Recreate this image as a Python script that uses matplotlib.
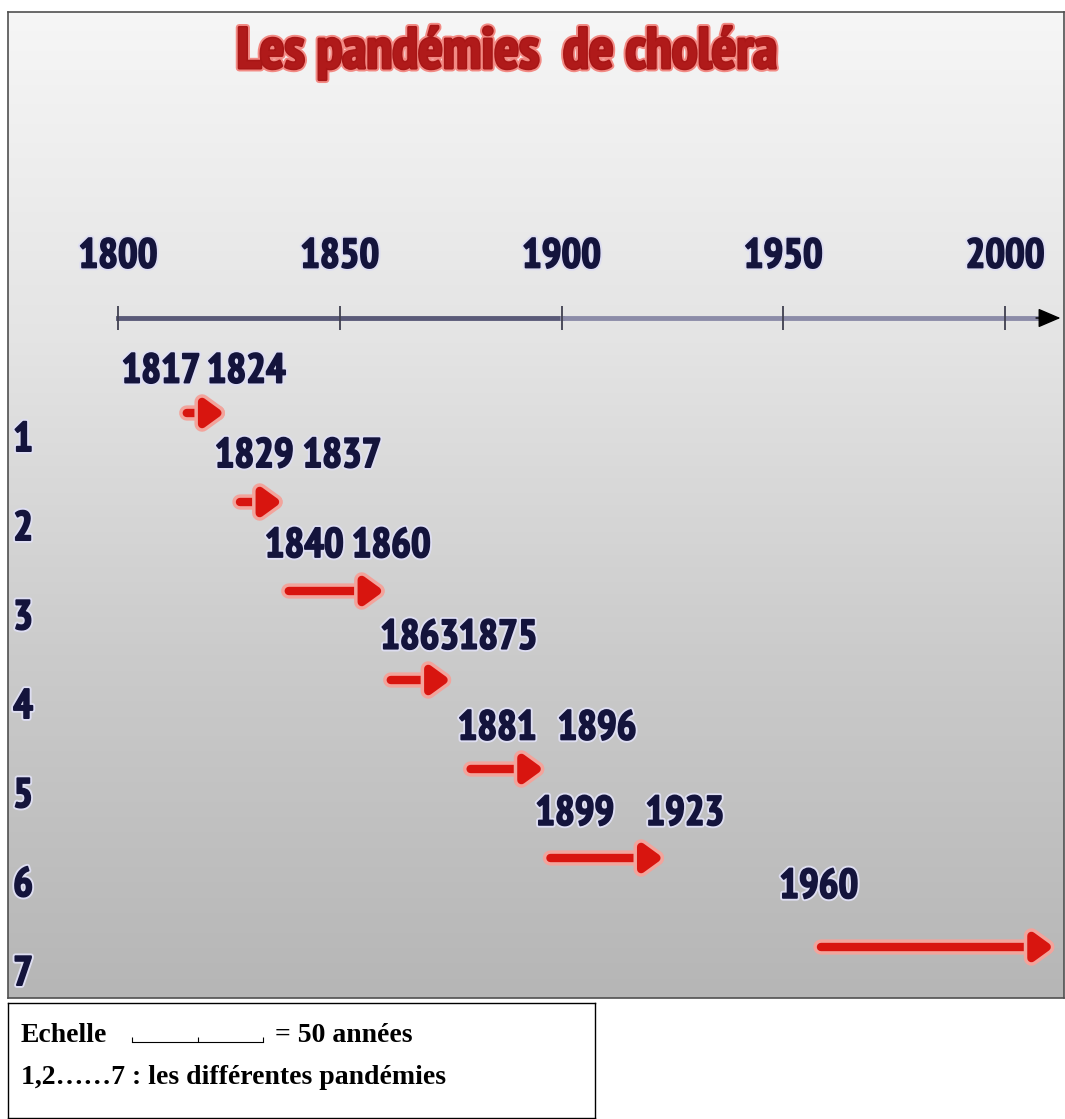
import numpy as np
import matplotlib
matplotlib.use('Agg')
from matplotlib import pyplot as plt
from matplotlib import patheffects as pe
from matplotlib import font_manager

# données : les 7 pandémies de choléra
pandemies = [1, 2, 3, 4, 5, 6, 7]
annee_debut = [1817, 1829, 1840, 1863, 1881, 1899, 1960]
annee_fin = [1824, 1837, 1860, 1875, 1896, 1923, 2011]   # la 7e continue
label_debut = ['1817', '1829', '1840', '1863', '1881', '1899', '1960']
label_fin = ['1824', '1837', '1860', '1875', '1896', '1923', '']
echelle_annees = [1800, 1850, 1900, 1950, 2000]

titre = 'Les pandémies  de choléra'
legende_1 = 'Echelle'
legende_1b = '= 50 années'
legende_2 = '1,2……7 : les différentes pandémies'

# mise en page (décalages des étiquettes, en années / en lignes)
dx_debut = [-7.3, 1.7, 2.0, 5.0, 4.5, 4.0, -2.0]
dx_fin = [4.9, 13.5, 1.6, 10.7, 12.0, 4.8, 0]
dy_label = [-0.46, -0.51, -0.50, -0.47, -0.45, -0.49, -0.67]

NAVY = '#14143c'
RED = '#d8150f'


def bold_weight(w):
    if isinstance(w, str):
        return w in ('bold', 'heavy', 'black', 'extra bold', 'semibold', 'demibold')
    return w >= 600


# police étroite (le dessin original utilise une police très condensée)
fname = None
for key in ('Narrow', 'Condensed'):
    for f in font_manager.fontManager.ttflist:
        if key in f.name and bold_weight(f.weight) and f.style == 'normal':
            fname = f.fname
            break
    if fname:
        break
if fname is None:
    for f in font_manager.fontManager.ttflist:
        if 'condensed' in str(f.stretch) and bold_weight(f.weight) and f.style == 'normal':
            fname = f.fname
            break
if fname is None:
    fp_narrow = font_manager.FontProperties(family='Liberation Sans', weight='bold')
else:
    fp_narrow = font_manager.FontProperties(fname=fname)

W, H = 1065, 1119
fig = plt.figure(figsize=(W / 100, H / 100), dpi=100)
fig.patch.set_facecolor('white')
renderer = fig.canvas.get_renderer()


def fp_fit(s, target_px, max_pt):
    # taille de police pour que le texte ait la largeur voulue
    fp = fp_narrow.copy()
    fp.set_size(100)
    t = fig.text(0, 0, s, fontproperties=fp)
    w = t.get_window_extent(renderer).width
    t.remove()
    fp = fp_narrow.copy()
    fp.set_size(min(max_pt, 100.0 * target_px / w))
    return fp


fp_annee = fp_fit('1800', 79, 34)
fp_titre = fp_fit(titre, 541, 48)

# panneau principal (pixels 8..1064 en x, 12..998 en y)
ax = fig.add_axes([8 / W, (H - 998) / H, (1064 - 8) / W, (998 - 12) / H])
px_an = (1005 - 118) / 200.0
x0 = 1800 - (118 - 8) / px_an
x1 = 1800 + (1064 - 118) / px_an
row_px = 89.0
y_top = 1 + (12 - 413) / row_px
y_bot = 1 + (998 - 413) / row_px
ax.set_xlim(x0, x1)
ax.set_ylim(y_bot, y_top)

# fond dégradé
grad = np.linspace(0, 1, 256).reshape(-1, 1)
ax.imshow(grad, cmap=matplotlib.colors.LinearSegmentedColormap.from_list(
    'fond', ['#f6f6f6', '#e4e4e4', '#cacaca', '#b6b6b6'], N=256),
    extent=[x0, x1, y_bot, y_top], aspect='auto', zorder=0)
for s in ax.spines.values():
    s.set_color('#505050')
    s.set_linewidth(1.2)
ax.set_xticks([])
ax.set_yticks([])

# titre
ax.text(1800 + (507 - 118) / px_an, 1 + (68 - 413) / row_px, titre,
        ha='center', va='baseline', fontproperties=fp_titre, color='#b01a1a',
        path_effects=[pe.Stroke(linewidth=5, foreground='#f28a84'),
                      pe.Stroke(linewidth=2.2, foreground='#a81616'),
                      pe.Normal()])

halo = [pe.Stroke(linewidth=4, foreground='#dedef2'),
        pe.Stroke(linewidth=1.3, foreground=NAVY),
        pe.Normal()]

# axe du temps
y_axe = 1 + (318 - 413) / row_px
ax.plot([1800, 1900], [y_axe, y_axe], color='#5a5a78', lw=3.5, zorder=2)
ax.plot([1900, 2008], [y_axe, y_axe], color='#8c8ca8', lw=3.5, zorder=2)
ax.annotate('', xy=(2012.5, y_axe), xytext=(2007, y_axe),
            arrowprops=dict(arrowstyle='-|>,head_length=0.7,head_width=0.3',
                            color='black', lw=1, mutation_scale=20,
                            shrinkA=0, shrinkB=0), zorder=3)
ax.vlines(echelle_annees, y_axe - 0.13, y_axe + 0.13, color='#404050', lw=1.3, zorder=3)
for a in echelle_annees:
    ax.text(a, 1 + (257 - 413) / row_px, str(a), ha='center', va='center',
            fontproperties=fp_annee, color=NAVY, path_effects=halo)

# flèches des pandémies
for i, p in enumerate(pandemies):
    ann = ax.annotate('', xy=(annee_fin[i], p), xytext=(annee_debut[i] - 1.5, p),
                      arrowprops=dict(arrowstyle='-|>,head_length=0.55,head_width=0.4',
                                      color=RED, lw=6, mutation_scale=20,
                                      shrinkA=0, shrinkB=0, joinstyle='round'),
                      zorder=4)
    ann.arrow_patch.set_path_effects([
        pe.Stroke(linewidth=11, foreground='#f2a49c', joinstyle='round'),
        pe.Normal()])
    ax.text(1778.6, p + 0.31, str(p), ha='center', va='center',
            fontproperties=fp_annee, color=NAVY, path_effects=halo)
    ax.text(annee_debut[i] + dx_debut[i], p + dy_label[i], label_debut[i],
            ha='center', va='center', fontproperties=fp_annee, color=NAVY,
            path_effects=halo)
    if label_fin[i]:
        ax.text(annee_fin[i] + dx_fin[i], p + dy_label[i], label_fin[i],
                ha='center', va='center', fontproperties=fp_annee, color=NAVY,
                path_effects=halo)

# légende en bas
lg = fig.add_axes([8 / W, 1 / H, (595 - 8) / W, (1118 - 1003) / H])
lg.set_xlim(0, 587)
lg.set_ylim(115, 0)
lg.set_xticks([])
lg.set_yticks([])
for s in lg.spines.values():
    s.set_color('black')
    s.set_linewidth(1.0)
SERIF = ['Liberation Serif', 'DejaVu Serif']
lg.text(13, 39, legende_1, ha='left', va='baseline', fontsize=20,
        fontweight='bold', family=SERIF)
lg.plot([124, 255], [39, 39], color='black', lw=0.8)
lg.vlines([124, 190, 255], 34, 39, color='black', lw=0.8)
lg.text(267, 39, legende_1b, ha='left', va='baseline', fontsize=20,
        fontweight='bold', family=SERIF)
lg.text(13, 81, legende_2, ha='left', va='baseline', fontsize=20,
        fontweight='bold', family=SERIF)

fig.savefig('out.png', dpi=100)
